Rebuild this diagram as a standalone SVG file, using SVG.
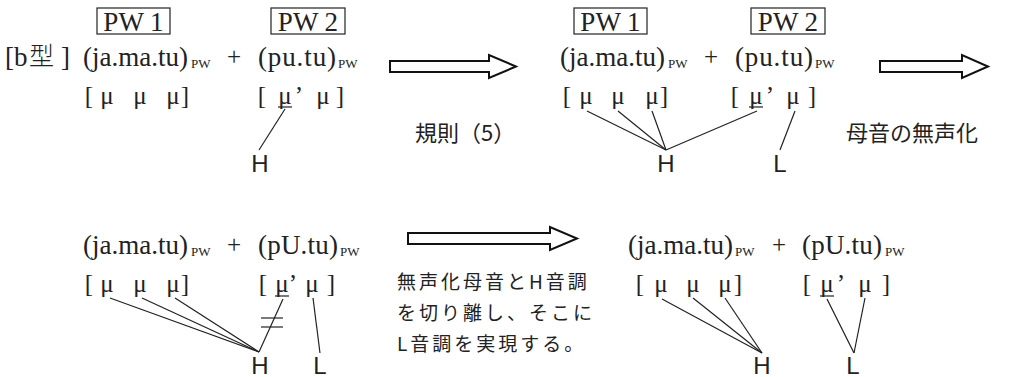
<svg xmlns="http://www.w3.org/2000/svg" width="1026" height="377" viewBox="0 0 1026 377">
<style>
.s{font-family:"Liberation Serif","Noto Serif",serif;font-size:27px;fill:#222}
.sub{font-family:"Liberation Serif",serif;font-size:13px;fill:#222}
.m{font-family:"Liberation Serif",serif;font-size:25px;fill:#222;text-anchor:middle}
.pw{font-family:"Liberation Serif",serif;font-size:27px;fill:#222;text-anchor:middle}
.t{font-family:"Liberation Sans",Arial,sans-serif;font-size:24px;fill:#222;text-anchor:middle}
.j{font-family:"Noto Sans CJK JP","Noto Sans",sans-serif;font-size:22px;fill:#222}
.jj{font-family:"Noto Sans CJK JP","Noto Sans",sans-serif;font-size:19px;letter-spacing:3px;fill:#222}
.box{fill:none;stroke:#222;stroke-width:1.2}
.ln{stroke:#222;stroke-width:1.2;fill:none}
.ul{stroke:#222;stroke-width:1.2}
.arr{fill:#fff;stroke:#111;stroke-width:2;stroke-linejoin:miter}
</style>
<g id="label-b">
<text class="s" x="5" y="66">[</text>
<text class="s" x="14" y="66">b</text>
<text x="29" y="65" font-family="Noto Sans CJK JP,sans-serif" font-size="25" font-weight="300" fill="#222">型</text>
<text class="s" x="61" y="66">]</text>
</g>
<g id="tl">
<rect class="box" x="97" y="8" width="73" height="26"/>
<text class="pw" x="133.5" y="31">PW 1</text>
<rect class="box" x="271" y="8" width="74" height="26"/>
<text class="pw" x="308" y="31">PW 2</text>
<text class="s" x="83" y="66" textLength="105" lengthAdjust="spacing">(ja.ma.tu)</text>
<text class="sub" x="191" y="68">PW</text>
<text class="m" x="234" y="65">+</text>
<text class="s" x="258" y="66" textLength="78" lengthAdjust="spacing">(pu.tu)</text>
<text class="sub" x="338" y="68">PW</text>
<text class="m" x="89" y="104">[</text><text class="m" x="107" y="104">μ</text><text class="m" x="140" y="104">μ</text><text class="m" x="173" y="104">μ</text><text class="m" x="185" y="104">]</text>
<text class="m" x="262" y="104">[</text><text class="m" x="285" y="104">μ</text><text class="m" x="299" y="104">’</text><text class="m" x="323" y="104">μ</text><text class="m" x="340" y="104">]</text>
<line class="ul" x1="278" y1="107" x2="292" y2="107"/>
<text class="t" x="260" y="172">H</text>
</g>
<g id="tr">
<rect class="box" x="574" y="8" width="73" height="26"/>
<text class="pw" x="610.5" y="31">PW 1</text>
<rect class="box" x="751" y="8" width="74" height="26"/>
<text class="pw" x="788" y="31">PW 2</text>
<text class="s" x="560" y="66" textLength="105" lengthAdjust="spacing">(ja.ma.tu)</text>
<text class="sub" x="668" y="68">PW</text>
<text class="m" x="711" y="65">+</text>
<text class="s" x="735" y="66" textLength="78" lengthAdjust="spacing">(pu.tu)</text>
<text class="sub" x="815" y="68">PW</text>
<text class="m" x="567" y="104">[</text><text class="m" x="586" y="104">μ</text><text class="m" x="618" y="104">μ</text><text class="m" x="652" y="104">μ</text><text class="m" x="664" y="104">]</text>
<text class="m" x="735" y="104">[</text><text class="m" x="756" y="104">μ</text><text class="m" x="770" y="104">’</text><text class="m" x="793" y="104">μ</text><text class="m" x="812" y="104">]</text>
<line class="ul" x1="749" y1="107" x2="763" y2="107"/>
<text class="t" x="666" y="172">H</text>
<text class="t" x="780" y="172">L</text>
</g>
<g id="bl">
<text class="s" x="83" y="254" textLength="105" lengthAdjust="spacing">(ja.ma.tu)</text>
<text class="sub" x="191" y="256">PW</text>
<text class="m" x="234" y="253">+</text>
<text class="s" x="258" y="254" textLength="80" lengthAdjust="spacing">(pU.tu)</text>
<text class="sub" x="340" y="256">PW</text>
<text class="m" x="89" y="292">[</text><text class="m" x="107" y="292">μ</text><text class="m" x="140" y="292">μ</text><text class="m" x="173" y="292">μ</text><text class="m" x="185" y="292">]</text>
<text class="m" x="263" y="292">[</text><text class="m" x="282" y="292">μ</text><text class="m" x="293" y="292">’</text><text class="m" x="312" y="292">μ</text><text class="m" x="331" y="292">]</text>
<line class="ul" x1="275" y1="296" x2="289" y2="296"/>
<text class="t" x="260" y="374">H</text>
<text class="t" x="320" y="374">L</text>
</g>
<g id="br">
<text class="s" x="628" y="254" textLength="105" lengthAdjust="spacing">(ja.ma.tu)</text>
<text class="sub" x="735" y="256">PW</text>
<text class="m" x="779" y="253">+</text>
<text class="s" x="802" y="254" textLength="80" lengthAdjust="spacing">(pU.tu)</text>
<text class="sub" x="885" y="256">PW</text>
<text class="m" x="640" y="292">[</text><text class="m" x="661" y="292">μ</text><text class="m" x="693" y="292">μ</text><text class="m" x="725" y="292">μ</text><text class="m" x="738" y="292">]</text>
<text class="m" x="807" y="292">[</text><text class="m" x="827" y="292">μ</text><text class="m" x="841" y="292">’</text><text class="m" x="865" y="292">μ</text><text class="m" x="886" y="292">]</text>
<line class="ul" x1="820" y1="296" x2="834" y2="296"/>
<text class="t" x="762" y="374">H</text>
<text class="t" x="853" y="374">L</text>
</g>
<g id="notes">
<text class="j" x="415" y="141">規則（5）</text>
<text class="j" x="846" y="141">母音の無声化</text>
<text class="jj" x="397" y="289">無声化母音とH音調</text>
<text class="jj" x="397" y="320">を切り離し、そこに</text>
<text class="jj" x="397" y="351">L音調を実現する。</text>
</g>
<g id="connectors">
<polygon class="arr" points="390,61 489,61 489,55 516,66.5 489,78 489,72 390,72"/>
<polygon class="arr" points="880,61 962,61 962,55 988,66.5 962,78 962,72 880,72"/>
<polygon class="arr" points="408,233 550,233 550,227 577,238.5 550,250 550,244 408,244"/>
<line class="ln" x1="285" y1="109" x2="259" y2="150"/>
<line class="ln" x1="587" y1="111" x2="666" y2="150"/>
<line class="ln" x1="618" y1="111" x2="666" y2="150"/>
<line class="ln" x1="652" y1="111" x2="666" y2="150"/>
<line class="ln" x1="757" y1="111" x2="666" y2="150"/>
<line class="ln" x1="795" y1="111" x2="780" y2="150"/>
<line class="ln" x1="110" y1="298" x2="259" y2="352"/>
<line class="ln" x1="142" y1="298" x2="259" y2="352"/>
<line class="ln" x1="175" y1="298" x2="259" y2="352"/>
<line class="ln" x1="283" y1="299" x2="259" y2="352"/>
<line class="ln" x1="261" y1="318" x2="283" y2="318"/>
<line class="ln" x1="261" y1="327" x2="283" y2="327"/>
<line class="ln" x1="313" y1="298" x2="320" y2="353"/>
<line class="ln" x1="662" y1="299" x2="762" y2="353"/>
<line class="ln" x1="693" y1="298" x2="762" y2="353"/>
<line class="ln" x1="725" y1="298" x2="762" y2="353"/>
<line class="ln" x1="827" y1="299" x2="854" y2="353"/>
<line class="ln" x1="865" y1="298" x2="854" y2="353"/>
</g>
</svg>
